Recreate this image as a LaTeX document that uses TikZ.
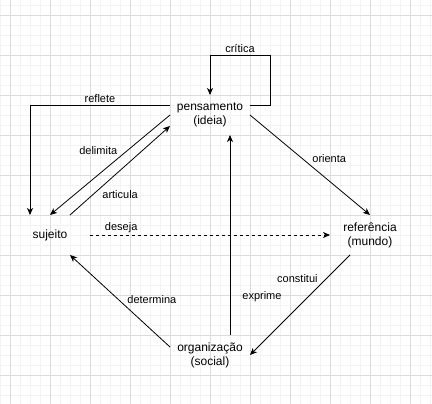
\documentclass[tikz,border=0pt]{standalone}
\usepackage{fontspec}
\setmainfont{Liberation Sans}
\usepackage{tikz}
\usetikzlibrary{arrows.meta, positioning}
\definecolor{gridmajor}{HTML}{DCDCDC}
\definecolor{gridminor}{HTML}{F3F3F3}
\tikzstyle{termo} =
[rectangle, minimum width = 80pt, minimum height = 40pt, inner sep = 0pt,
outer sep = 0pt, align = center, font = \fontsize{12}{14}\selectfont]
\tikzstyle{rotulo} =
[font = \fontsize{11}{13}\selectfont, inner sep = 2pt]
\tikzstyle{line} = [draw, line width = 0.8pt,
-{Stealth[length = 7pt, width = 6pt, inset = 2pt]}]

\begin{document}
\begin{tikzpicture}[x = 1pt, y = -1pt]
  \fill [white] (0,0) rectangle (432,404);
  \useasboundingbox (0,0) rectangle (432,404);
  % background grid
  \foreach \gx in {0,10,...,430}
    \draw [gridminor, line width = 0.6pt] (\gx,0) -- (\gx,404);
  \foreach \gy in {5,15,...,395}
    \draw [gridminor, line width = 0.6pt] (0,\gy) -- (432,\gy);
  \foreach \gx in {10,50,...,410}
    \draw [gridmajor, line width = 0.8pt] (\gx,0) -- (\gx,404);
  \foreach \gy in {15,55,...,375}
    \draw [gridmajor, line width = 0.8pt] (0,\gy) -- (432,\gy);
  %
  % nodes
  \node [termo] (pensamento) at (210,115) {pensamento\\(ideia)};
  \node [termo, below left=80pt and 80pt of pensamento] (sujeito) {sujeito};
  \node [termo, below right=80pt and 80pt of pensamento] (referencia)
   {referência\\(mundo)};
  \node [termo, below=200pt of pensamento] (organizacao)
   {organização\\(social)};
  %
  % edges
  \path [line] ([yshift=10pt]pensamento.east) -- ++(20,0) -- ++(0,-50)
   -- node [rotulo, above] {crítica} ++(-60,0) -- (pensamento.north);
  \path [line] ([yshift=10pt]pensamento.west)
   -| node [rotulo, pos=0.25, above] {reflete} ([xshift=-20pt]sujeito.north);
  \path [line] (pensamento.west)
   -- node [rotulo, pos=0.42, above left] {delimita} (sujeito.north);
  \path [line] ([xshift=20pt]sujeito.north)
   -- node [rotulo, pos=0.3, below right] {articula}
   ([yshift=-11pt]pensamento.west);
  \path [line, dash pattern=on 3pt off 3pt] (sujeito.east)
   -- node [rotulo, pos=0.13, above] {deseja} (referencia.west);
  \path [line] (pensamento.east)
   -- node [rotulo, pos=0.5, above right] {orienta} (referencia.north);
  \path [line] ([xshift=-20pt]referencia.south)
   -- node [rotulo, pos=0.3, above left] {constitui} (organizacao.east);
  \path [line] ([xshift=20pt]organizacao.north)
   -- node [rotulo, pos=0.19, right=10pt] {exprime}
   ([xshift=20pt]pensamento.south);
  \path [line] ([yshift=8pt]organizacao.west)
   -- node [rotulo, pos=0.45, above right] {determina}
   ([xshift=20pt]sujeito.south);
\end{tikzpicture}
\end{document}
